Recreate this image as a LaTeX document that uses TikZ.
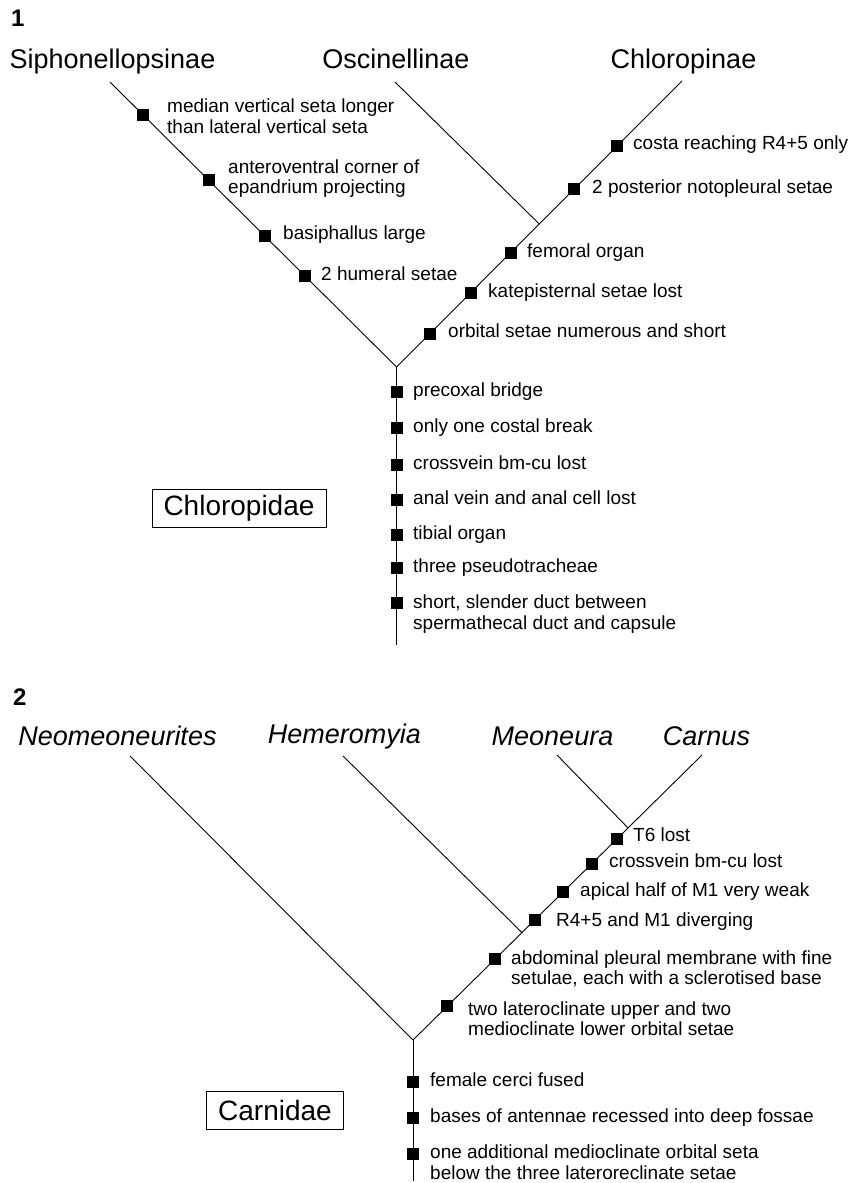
\documentclass[tikz,border=0pt]{standalone}
\usepackage{fontspec}
\setmainfont{Liberation Sans}
\usetikzlibrary{calc}
\begin{document}
\begin{tikzpicture}[x=1pt,y=-1pt,
  branch/.style={line width=0.9pt, black},
  sq/.style={fill=black, draw=none, minimum size=12pt, inner sep=0pt, outer sep=0pt},
  taxon/.style={font=\fontsize{27}{32}\selectfont, inner sep=0pt, anchor=base},
  taxit/.style={font=\fontsize{27}{32}\selectfont\itshape, inner sep=0pt, anchor=base},
  lab/.style={font=\fontsize{19}{20.5}\selectfont, inner sep=0pt, anchor=west, text height=13.5pt, text depth=4.5pt},
  labtwo/.style={font=\fontsize{19}{20.5}\selectfont, inner sep=0pt, anchor=west, align=left},
  famname/.style={draw, line width=0.8pt, font=\fontsize{28}{32}\selectfont, inner xsep=11.5pt, minimum height=38pt},
  fignum/.style={font=\fontsize{24}{28}\selectfont\bfseries, inner sep=0pt, anchor=base west}]
\useasboundingbox (0,0) rectangle (848,1183);

% ---------------- Figure 1 ----------------
\node[fignum] (n1) at (11,27) {1};
\node[taxon] (siph) at (112.5,68) {Siphonellopsinae};
\node[taxon] (osc) at (396,68) {Oscinellinae};
\node[taxon] (chl) at (683.5,68) {Chloropinae};

\coordinate (tS) at (110,82);
\coordinate (tO) at (395,82);
\coordinate (tC) at (682,81);
\coordinate (j1) at (396.5,367);
\coordinate (b1) at (396.5,645);
\coordinate (jO) at ($(tC)!0.5!(j1)$);

\draw[branch] (tS) -- (j1);
\draw[branch] (tC) -- (j1);
\draw[branch] (tO) -- (jO);
\draw[branch] (j1) -- (b1);

\node[sq] (sa1) at ($(tS)!0.115!(j1)$) {};
\node[sq] (sa2) at ($(tS)!0.345!(j1)$) {};
\node[sq] (sa3) at ($(tS)!0.540!(j1)$) {};
\node[sq] (sa4) at ($(tS)!0.679!(j1)$) {};
\node[sq] (sc1) at ($(tC)!0.228!(j1)$) {};
\node[sq] (sc2) at ($(tC)!0.379!(j1)$) {};
\node[sq] (sc3) at ($(tC)!0.600!(j1)$) {};
\node[sq] (sc4) at ($(tC)!0.740!(j1)$) {};
\node[sq] (sc5) at ($(tC)!0.884!(j1)$) {};
\node[sq] (st1) at (396.5,392) {};
\node[sq] (st2) at (396.5,428) {};
\node[sq] (st3) at (396.5,465) {};
\node[sq] (st4) at (396.5,500) {};
\node[sq] (st5) at (396.5,535) {};
\node[sq] (st6) at (396.5,568) {};
\node[sq] (st7) at (396.5,603) {};

\node[labtwo] (la1) at (167,116) {median vertical seta longer\\than lateral vertical seta};
\node[labtwo] (la2) at (228,178.5) {anteroventral corner of\\epandrium projecting};
\node[lab] (la3) at (283,235) {basiphallus large};
\node[lab] (la4) at (321,276) {2 humeral setae};
\node[lab] (lc1) at (633,145) {costa reaching R4+5 only};
\node[lab] (lc2) at (592,189) {2 posterior notopleural setae};
\node[lab] (lc3) at (527,253) {femoral organ};
\node[lab] (lc4) at (488,293) {katepisternal setae lost};
\node[lab] (lc5) at (448,333) {orbital setae numerous and short};
\node[lab] (lt1) at (413,392) {precoxal bridge};
\node[lab] (lt2) at (413,428) {only one costal break};
\node[lab] (lt3) at (413,465) {crossvein bm-cu lost};
\node[lab] (lt4) at (413,500) {anal vein and anal cell lost};
\node[lab] (lt5) at (413,535) {tibial organ};
\node[lab] (lt6) at (413,568) {three pseudotracheae};
\node[labtwo] (lt7) at (413,614) {short, slender duct between\\spermathecal duct and capsule};

\node[famname] (chlfam) at (239,508) {Chloropidae};

% ---------------- Figure 2 ----------------
\node[fignum] (n2) at (13,705) {2};
\node[taxit] (neo) at (117.5,745) {Neomeoneurites};
\node[taxit] (hem) at (344.5,743.5) {Hemeromyia};
\node[taxit] (meo) at (552.5,745) {Meoneura};
\node[taxit] (car) at (706.5,745) {Carnus};

\coordinate (tN) at (130,756);
\coordinate (tH) at (343,756);
\coordinate (tM) at (557,755);
\coordinate (tCa) at (702,755);
\coordinate (j2) at (413,1040);
\coordinate (b2) at (413,1181);
\coordinate (jM) at ($(tCa)!0.256!(j2)$);
\coordinate (jH) at ($(tCa)!0.623!(j2)$);

\draw[branch] (tN) -- (j2);
\draw[branch] (tCa) -- (j2);
\draw[branch] (tH) -- (jH);
\draw[branch] (tM) -- (jM);
\draw[branch] (j2) -- (b2);

\node[sq] (q1) at ($(tCa)!0.294!(j2)$) {};
\node[sq] (q2) at ($(tCa)!0.381!(j2)$) {};
\node[sq] (q3) at ($(tCa)!0.481!(j2)$) {};
\node[sq] (q4) at ($(tCa)!0.578!(j2)$) {};
\node[sq] (q5) at ($(tCa)!0.716!(j2)$) {};
\node[sq] (q6) at ($(tCa)!0.882!(j2)$) {};
\node[sq] (r1) at (413,1082) {};
\node[sq] (r2) at (413,1118) {};
\node[sq] (r3) at (413,1154) {};

\node[lab] (lq1) at (633,837) {T6 lost};
\node[lab] (lq2) at (609,863) {crossvein bm-cu lost};
\node[lab] (lq3) at (580,892) {apical half of M1 very weak};
\node[lab] (lq4) at (556,922) {R4+5 and M1 diverging};
\node[labtwo] (lq5) at (511,969) {abdominal pleural membrane with fine\\setulae, each with a sclerotised base};
\node[labtwo] (lq6) at (468,1018.5) {two lateroclinate upper and two\\medioclinate lower orbital setae};
\node[lab] (lr1) at (430,1082) {female cerci fused};
\node[lab] (lr2) at (430,1118) {bases of antennae recessed into deep fossae};
\node[labtwo] (lr3) at (430,1162) {one additional medioclinate orbital seta\\below the three lateroreclinate setae};

\node[famname] (carfam) at (275,1110) {Carnidae};
\end{tikzpicture}
\end{document}
